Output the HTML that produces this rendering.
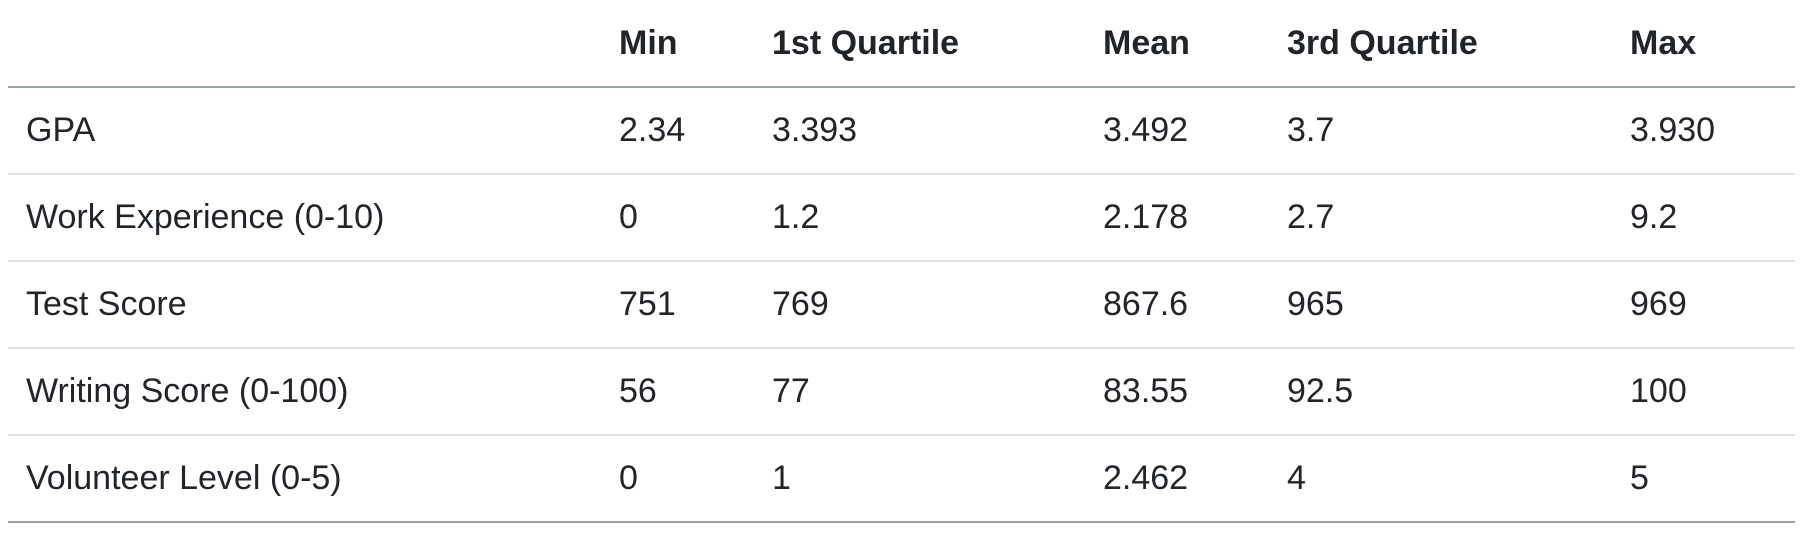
<!DOCTYPE html>
<html><head><meta charset="utf-8"><style>
html,body{margin:0;padding:0;background:#fff;width:1803px;height:534px;overflow:hidden}
table{position:absolute;left:8px;top:0;width:1787px;border-collapse:collapse;font-family:"Liberation Sans",Arial,sans-serif;font-size:34px;color:#212529}
th,td{text-align:left;padding:0 0 0 18px;height:85px;vertical-align:middle}
th{font-weight:bold;height:86px;border-bottom:2px solid #9aa1a7}
td{border-bottom:2px solid #dee2e6}
tr:last-child td{border-bottom:2px solid #9aa1a7}
</style></head><body>
<table>
<colgroup><col style="width:593px"><col style="width:153px"><col style="width:331px"><col style="width:184px"><col style="width:343px"><col></colgroup>
<thead><tr>
<th></th>
<th>Min</th>
<th>1st Quartile</th>
<th>Mean</th>
<th>3rd Quartile</th>
<th>Max</th>
</tr></thead>
<tbody>
<tr><td>GPA</td><td>2.34</td><td>3.393</td><td>3.492</td><td>3.7</td><td>3.930</td></tr>
<tr><td>Work Experience (0-10)</td><td>0</td><td>1.2</td><td>2.178</td><td>2.7</td><td>9.2</td></tr>
<tr><td>Test Score</td><td>751</td><td>769</td><td>867.6</td><td>965</td><td>969</td></tr>
<tr><td>Writing Score (0-100)</td><td>56</td><td>77</td><td>83.55</td><td>92.5</td><td>100</td></tr>
<tr><td>Volunteer Level (0-5)</td><td>0</td><td>1</td><td>2.462</td><td>4</td><td>5</td></tr>
</tbody></table>
</body></html>
